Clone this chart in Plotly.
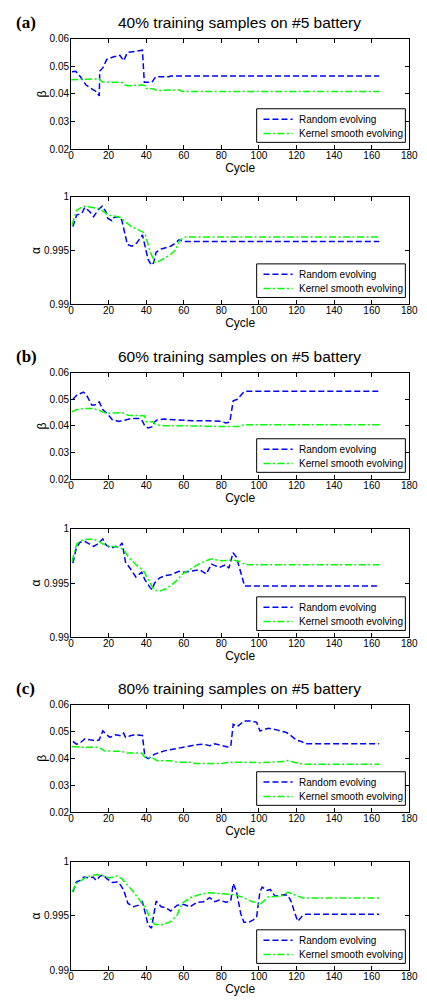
import plotly.graph_objects as go

# ---------------- data (cycle, value) ----------------
a_beta_rand_x = [0.5, 2.5, 5, 8, 11, 13, 15, 15.3, 17, 19, 23, 25, 26, 28, 30, 38, 39, 43, 45, 52, 53, 164]
a_beta_rand_y = [0.048, 0.0482, 0.0462, 0.0432, 0.0418, 0.041, 0.0393, 0.0483, 0.0495, 0.0525, 0.0535, 0.0535, 0.054, 0.052, 0.055, 0.0558, 0.0442, 0.0442, 0.0462, 0.0462, 0.0465, 0.0465]
a_beta_ks_x = [0, 15, 16.5, 27, 28.5, 30, 37, 39, 39.5, 44, 45.5, 55, 57.5, 59, 164]
a_beta_ks_y = [0.0451, 0.0455, 0.0443, 0.0442, 0.0433, 0.043, 0.0432, 0.0431, 0.042, 0.0418, 0.0412, 0.0413, 0.0415, 0.0409, 0.0409]

a_alpha_rand_x = [1, 3, 5.7, 7.4, 10, 12, 14.3, 16.6, 18.6, 19.5, 21.7, 23, 25.5, 27, 28, 30, 32.4, 35, 38, 39.3, 41, 42.8, 44, 45.3, 48, 53, 55.7, 57.4, 60, 164]
a_alpha_rand_y = [0.99722, 0.9983, 0.99845, 0.999, 0.9986, 0.99814, 0.99875, 0.99912, 0.9986, 0.9980, 0.99777, 0.9981, 0.99814, 0.99784, 0.99707, 0.99555, 0.9954, 0.9957, 0.99646, 0.9954, 0.99418, 0.99363, 0.99387, 0.99485, 0.99515, 0.9954, 0.9957, 0.996, 0.99585, 0.99585]
a_alpha_ks_x = [0.5, 3, 6.6, 15, 20, 26, 32, 37.6, 39.3, 42, 44.5, 47, 53, 55.7, 58, 60.8, 164]
a_alpha_ks_y = [0.99738, 0.99875, 0.99912, 0.9989, 0.9983, 0.9981, 0.99723, 0.99677, 0.99662, 0.99494, 0.99393, 0.99402, 0.99463, 0.99509, 0.996, 0.99625, 0.99625]

b_beta_rand_x = [1, 3, 6.6, 8.3, 11, 12.6, 15, 17, 19.5, 22, 25.5, 28, 30, 32.4, 36, 37.6, 39.3, 41, 43, 44.5, 46, 49.7, 55, 61.7, 67, 73.8, 80, 82.4, 84.5, 86.3, 88.5, 92, 93, 164]
b_beta_rand_y = [0.05, 0.0515, 0.0527, 0.0515, 0.0478, 0.0478, 0.049, 0.046, 0.0444, 0.0423, 0.0417, 0.042, 0.0423, 0.0428, 0.0428, 0.0423, 0.04, 0.0392, 0.0396, 0.0416, 0.0423, 0.0426, 0.0423, 0.042, 0.0419, 0.0419, 0.0417, 0.0411, 0.0414, 0.0494, 0.05, 0.0527, 0.053, 0.053]
b_beta_ks_x = [0.5, 3, 6.6, 11.8, 15, 17.6, 20, 27, 30.5, 39, 40, 43.5, 45.2, 49.6, 56.5, 67, 79, 89.3, 92, 164]
b_beta_ks_y = [0.0453, 0.0462, 0.0465, 0.0465, 0.0458, 0.045, 0.0448, 0.045, 0.044, 0.0438, 0.0416, 0.0416, 0.0404, 0.0401, 0.0401, 0.0399, 0.0398, 0.0398, 0.0404, 0.0404]

b_alpha_rand_x = [1, 2.8, 4.8, 7.4, 9.7, 12, 14.3, 16.9, 18.6, 21.2, 23.8, 25.2, 27.2, 29, 31.6, 34.5, 37.6, 39.3, 42, 43, 44.5, 47, 50.5, 53, 57.4, 60, 63.4, 68.6, 72, 74.7, 79, 82.4, 84, 86.2, 88, 90, 92.4, 164]
b_alpha_rand_y = [0.99683, 0.99823, 0.99875, 0.99881, 0.9986, 0.99838, 0.9986, 0.99906, 0.99851, 0.9982, 0.99838, 0.99829, 0.99869, 0.99692, 0.99631, 0.99555, 0.996, 0.9953, 0.9946, 0.9944, 0.995, 0.99546, 0.9957, 0.99576, 0.99607, 0.996, 0.99607, 0.99622, 0.99582, 0.99674, 0.99643, 0.99668, 0.99637, 0.99778, 0.99738, 0.99616, 0.99472, 0.99472]
b_alpha_ks_x = [0.5, 3, 6.6, 11.8, 15, 18.6, 25.5, 28, 30.6, 35, 38.5, 41, 44, 47, 51.3, 55.7, 60, 64.4, 68.6, 74.7, 80, 86, 89.3, 93, 164]
b_alpha_ks_y = [0.99698, 0.9986, 0.999, 0.99906, 0.99881, 0.99845, 0.99829, 0.99808, 0.99738, 0.99662, 0.99616, 0.9953, 0.99439, 0.99424, 0.99454, 0.99515, 0.99591, 0.99637, 0.99683, 0.99722, 0.99704, 0.99713, 0.99698, 0.99668, 0.99668]

c_beta_rand_x = [1, 2.8, 4.8, 7.4, 10, 13.4, 15, 16.9, 18.6, 20.7, 23.8, 26.4, 28, 29, 31.6, 34, 38, 39.3, 41, 44.5, 49.7, 56.5, 63.4, 67, 70.5, 73.8, 76.5, 80.8, 83.4, 85, 86.3, 88.5, 92, 96.2, 98.8, 100.5, 105, 110, 114.7, 116.4, 120, 122.5, 125, 164]
c_beta_rand_y = [0.0463, 0.0453, 0.0457, 0.0473, 0.0469, 0.0465, 0.0469, 0.0502, 0.049, 0.0478, 0.0488, 0.0484, 0.0494, 0.0478, 0.0484, 0.0488, 0.0485, 0.0407, 0.0399, 0.0416, 0.0428, 0.0438, 0.0448, 0.0451, 0.0453, 0.0447, 0.0454, 0.0448, 0.0442, 0.0444, 0.0527, 0.0518, 0.0539, 0.0539, 0.0534, 0.0502, 0.0512, 0.0505, 0.0496, 0.0488, 0.0468, 0.0463, 0.0454, 0.0454]
c_beta_ks_x = [0.5, 6.6, 15, 17.6, 27, 29.7, 37.6, 39.3, 43.5, 46, 53, 56.5, 63.4, 66, 80.8, 83.4, 93.8, 100, 112, 115.5, 119, 124, 164]
c_beta_ks_y = [0.0444, 0.0441, 0.0441, 0.0428, 0.0426, 0.042, 0.042, 0.0404, 0.0401, 0.0391, 0.0391, 0.0386, 0.0386, 0.0381, 0.0381, 0.0386, 0.0386, 0.0384, 0.0388, 0.0392, 0.0385, 0.0378, 0.0378]

c_alpha_rand_x = [1, 2.8, 4.8, 6.9, 9.7, 11.7, 13.4, 15, 16.9, 19, 22, 24.7, 26.4, 28, 30.3, 33.3, 35.9, 38, 39.3, 41, 42.8, 44.5, 45.3, 48, 50.5, 53, 56.5, 60, 63.4, 67, 70.5, 73.8, 76.5, 79, 82.4, 85, 86.3, 88, 90.3, 92, 94.5, 97, 98.8, 100.5, 101.7, 104.3, 106, 108.6, 113.8, 115.5, 117.3, 119, 120.7, 123.3, 125, 164]
c_alpha_rand_y = [0.99722, 0.99813, 0.99828, 0.99859, 0.9985, 0.99859, 0.99828, 0.99859, 0.9988, 0.99844, 0.99808, 0.99813, 0.99783, 0.99738, 0.99616, 0.99585, 0.996, 0.99631, 0.9954, 0.99418, 0.99388, 0.9954, 0.99637, 0.99585, 0.99576, 0.99546, 0.996, 0.99606, 0.99585, 0.99626, 0.99632, 0.99668, 0.99632, 0.99647, 0.99626, 0.99637, 0.99799, 0.99729, 0.99524, 0.99442, 0.99442, 0.99464, 0.99494, 0.99722, 0.99765, 0.99735, 0.99744, 0.99683, 0.99695, 0.99689, 0.99628, 0.9953, 0.99451, 0.99506, 0.99515, 0.99515]
c_alpha_ks_x = [0.5, 3, 8.3, 13.4, 17.6, 20.3, 24.7, 27.2, 32.4, 36.7, 39.3, 42, 44.5, 48, 53, 56.5, 59, 63.4, 68.6, 73.8, 80.8, 84, 87.5, 92, 96.2, 98.8, 100, 105, 112, 115.5, 117.3, 120, 123.3, 164]
c_alpha_ks_y = [0.99722, 0.998, 0.9986, 0.99881, 0.99869, 0.9985, 0.99869, 0.99839, 0.99739, 0.99647, 0.99585, 0.99485, 0.99424, 0.99418, 0.99448, 0.99509, 0.99616, 0.99668, 0.99699, 0.99714, 0.99699, 0.99699, 0.99693, 0.99668, 0.99632, 0.99626, 0.99598, 0.99675, 0.99684, 0.9972, 0.99705, 0.99689, 0.99665, 0.99665]

panel_titles = ["40% training samples on #5 battery", "60% training samples on #5 battery", "80% training samples on #5 battery"]
panel_tags = ["(a)", "(b)", "(c)"]
series_names = ["Random evolving", "Kernel smooth evolving"]
x_ticks = [0, 20, 40, 60, 80, 100, 120, 140, 160, 180]
beta_ticks = [0.02, 0.03, 0.04, 0.05, 0.06]
beta_ticklabels = ["0.02", "0.03", "0.04", "0.05", "0.06"]
alpha_ticks = [0.99, 0.995, 1.0]
alpha_ticklabels = ["0.99", "0.995", "1"]

# ---------------- styles & geometry ----------------
W, H = 427, 1004
plot_px = [(33, 145), (193, 302), (371, 479), (529, 639), (707, 816), (866, 976)]
x_left, x_right = 70, 418
colors = ["#0000ff", "#00ff00"]
dashes = ["6px,3px", "7px,2.5px,2px,2.5px"]
LW = 1.5

subplots = [
    (a_beta_rand_x, a_beta_rand_y, a_beta_ks_x, a_beta_ks_y, "β"),
    (a_alpha_rand_x, a_alpha_rand_y, a_alpha_ks_x, a_alpha_ks_y, "α"),
    (b_beta_rand_x, b_beta_rand_y, b_beta_ks_x, b_beta_ks_y, "β"),
    (b_alpha_rand_x, b_alpha_rand_y, b_alpha_ks_x, b_alpha_ks_y, "α"),
    (c_beta_rand_x, c_beta_rand_y, c_beta_ks_x, c_beta_ks_y, "β"),
    (c_alpha_rand_x, c_alpha_rand_y, c_alpha_ks_x, c_alpha_ks_y, "α"),
]

fig = go.Figure()
layout = dict(
    width=W, height=H, margin=dict(l=0, r=0, t=0, b=0),
    paper_bgcolor="white", plot_bgcolor="white", showlegend=False,
    font=dict(family="Arial, Liberation Sans, sans-serif", size=10, color="black"),
)
annotations, shapes = [], []

def px(xp):
    return xp / W

def py(yp):
    return 1 - yp / H

for i, (rx, ry, kx, ky, ylab) in enumerate(subplots):
    n = i + 1
    xa = "x" if n == 1 else f"x{n}"
    ya = "y" if n == 1 else f"y{n}"
    top, bot = plot_px[i]
    for k, (sx, sy) in enumerate([(rx, ry), (kx, ky)]):
        fig.add_trace(go.Scatter(x=sx, y=sy, mode="lines", name=series_names[k],
                                 line=dict(color=colors[k], width=LW, dash=dashes[k]),
                                 xaxis=xa, yaxis=ya))
    is_beta = ylab == "β"
    axis_common = dict(showline=True, linecolor="black", linewidth=1, mirror="ticks",
                       ticks="inside", ticklen=4, tickcolor="black", showgrid=False,
                       zeroline=False, tickfont=dict(size=10))
    layout["xaxis" if n == 1 else f"xaxis{n}"] = dict(
        axis_common, domain=[px(x_left), px(x_right)], anchor=ya, range=[0, 180],
        tickvals=x_ticks, ticklabelstandoff=-3,
        title=dict(text="Cycle", font=dict(size=12), standoff=1))
    layout["yaxis" if n == 1 else f"yaxis{n}"] = dict(
        axis_common, domain=[py(bot), py(top)], anchor=xa,
        range=[0.02, 0.06] if is_beta else [0.99, 1.0],
        tickvals=beta_ticks if is_beta else alpha_ticks,
        ticktext=beta_ticklabels if is_beta else alpha_ticklabels,
        ticklabelstandoff=-1,
        title=dict(text=ylab, font=dict(size=12), standoff=0))
    # legend box (bottom-right inside the axes)
    lx0, lx1, ly0, ly1 = 261, 414, bot - 41, bot - 7
    shapes.append(dict(type="rect", xref="paper", yref="paper", x0=px(lx0), x1=px(lx1),
                       y0=py(ly1), y1=py(ly0), line=dict(color="black", width=1),
                       fillcolor="white", layer="above"))
    for k in range(2):
        yy = ly0 + 10.5 + 14.5 * k
        shapes.append(dict(type="line", xref="paper", yref="paper", x0=px(268), x1=px(298),
                           y0=py(yy), y1=py(yy),
                           line=dict(color=colors[k], width=LW, dash=dashes[k]), layer="above"))
        annotations.append(dict(text=series_names[k], x=px(302), y=py(yy), xref="paper",
                                yref="paper", showarrow=False, xanchor="left", yanchor="middle",
                                font=dict(size=10)))

for j in range(3):
    top = plot_px[2 * j][0]
    annotations.append(dict(text=panel_titles[j], x=px(243), y=py(top - 16),
                            xref="paper", yref="paper", showarrow=False,
                            font=dict(size=15.5), xanchor="center", yanchor="middle"))
    annotations.append(dict(text="<b>" + panel_tags[j] + "</b>", x=px(11), y=py(top - 16),
                            xref="paper", yref="paper", showarrow=False,
                            font=dict(size=17, family="Liberation Serif, Times New Roman, serif"),
                            xanchor="left", yanchor="middle"))

layout["annotations"] = annotations
layout["shapes"] = shapes
fig.update_layout(**layout)
fig.write_html("out.html")
